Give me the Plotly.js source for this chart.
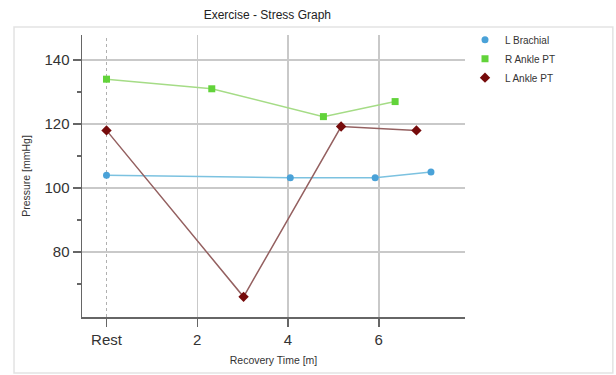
<!DOCTYPE html>
<html>
<head>
<meta charset="utf-8">
<script src="https://cdn.plot.ly/plotly-3.0.1.min.js"></script>
<style>
  html, body { margin: 0; padding: 0; background: #ffffff; }
  #chart { width: 616px; height: 375px; }
</style>
</head>
<body>
<div id="chart"></div>
<script>
// ---- data ----
var tickValues = [0, 2, 4, 6];
var tickLabels = ["Rest", "2", "4", "6"];

var brachialTime = [0, 4.05, 5.92, 7.15];
var brachialPressure = [104, 103.2, 103.2, 105];

var rAnkleTime = [0, 2.32, 4.78, 6.36];
var rAnklePressure = [134, 131, 122.3, 127];

var lAnkleTime = [0, 3.02, 5.17, 6.83];
var lAnklePressure = [118, 66, 119.2, 118];

var seriesNames = ["L Brachial", "R Ankle PT", "L Ankle PT"];

// ---- styles ----
var font = "Liberation Sans, Arial, Helvetica, sans-serif";

function lineTrace(x, y, color) {
  return { x: x, y: y, type: "scatter", mode: "lines", showlegend: false,
           hoverinfo: "skip", line: { color: color, width: 1.5 } };
}
function markerTrace(x, y, name, color, symbol, size) {
  return { x: x, y: y, type: "scatter", mode: "markers", name: name,
           marker: { color: color, symbol: symbol, size: size } };
}

var data = [
  lineTrace(brachialTime, brachialPressure, "#7cc2e0"),
  lineTrace(rAnkleTime, rAnklePressure, "#a5dc86"),
  lineTrace(lAnkleTime, lAnklePressure, "#946060"),
  markerTrace(brachialTime, brachialPressure, seriesNames[0], "#4aa2d8", "circle", 7),
  markerTrace(rAnkleTime, rAnklePressure, seriesNames[1], "#62d33a", "square", 7),
  markerTrace(lAnkleTime, lAnklePressure, seriesNames[2], "#760b0b", "diamond", 8)
];

var layout = {
  width: 616, height: 375,
  margin: { l: 82, r: 151, t: 35, b: 58 },
  paper_bgcolor: "#ffffff", plot_bgcolor: "#ffffff",
  font: { family: font, color: "#333333" },
  title: { text: "Exercise - Stress Graph", font: { size: 12, color: "#222222", family: font },
           x: 0.434, xanchor: "center", y: 0.96, yanchor: "middle" },
  xaxis: {
    range: [-0.54, 7.9], tickmode: "array", tickvals: tickValues, ticktext: tickLabels,
    showgrid: false, zeroline: false, showline: true, linecolor: "#666666", linewidth: 1.5,
    ticks: "outside", ticklen: 8, tickwidth: 1.5, tickcolor: "#666666",
    tickfont: { size: 15, color: "#333333", family: font },
    minor: { tickmode: "array", tickvals: [2, 4, 6], showgrid: true, gridcolor: "#c9c9c9", gridwidth: 1.5, ticks: "" },
    title: { text: "Recovery Time [m]", font: { size: 10.5, color: "#333333", family: font }, standoff: 10 }
  },
  yaxis: {
    range: [59.7, 147.8], tickmode: "array", tickvals: [80, 100, 120, 140],
    showgrid: true, gridcolor: "#c9c9c9", gridwidth: 1.5, zeroline: false,
    showline: true, linecolor: "#666666", linewidth: 1.5,
    ticks: "outside", ticklen: 8, tickwidth: 1.5, tickcolor: "#666666",
    tickfont: { size: 15, color: "#333333", family: font },
    minor: { tickmode: "array", tickvals: [70, 90, 110, 130], ticks: "outside", ticklen: 4, tickwidth: 1.5, tickcolor: "#666666", showgrid: false },
    title: { text: "Pressure [mmHg]", font: { size: 10.5, color: "#333333", family: font }, standoff: 12 }
  },
  legend: {
    x: 1.0, xanchor: "left", y: 1.035, yanchor: "top",
    font: { size: 10, color: "#333333", family: font },
    bgcolor: "rgba(0,0,0,0)", itemwidth: 30
  },
  shapes: [
    { type: "line", xref: "x", yref: "paper", x0: 0, x1: 0, y0: 0, y1: 1,
      line: { color: "#b0b0b0", width: 1, dash: "dot" }, layer: "below" },
    { type: "rect", xref: "paper", yref: "paper", x0: -0.1775, x1: 1.386, y0: -0.199, y1: 1.028,
      line: { color: "#e3e3e3", width: 1.5 }, fillcolor: "rgba(0,0,0,0)", layer: "below" }
  ]
};

Plotly.newPlot("chart", data, layout, { displayModeBar: false, staticPlot: true });
</script>
</body>
</html>
